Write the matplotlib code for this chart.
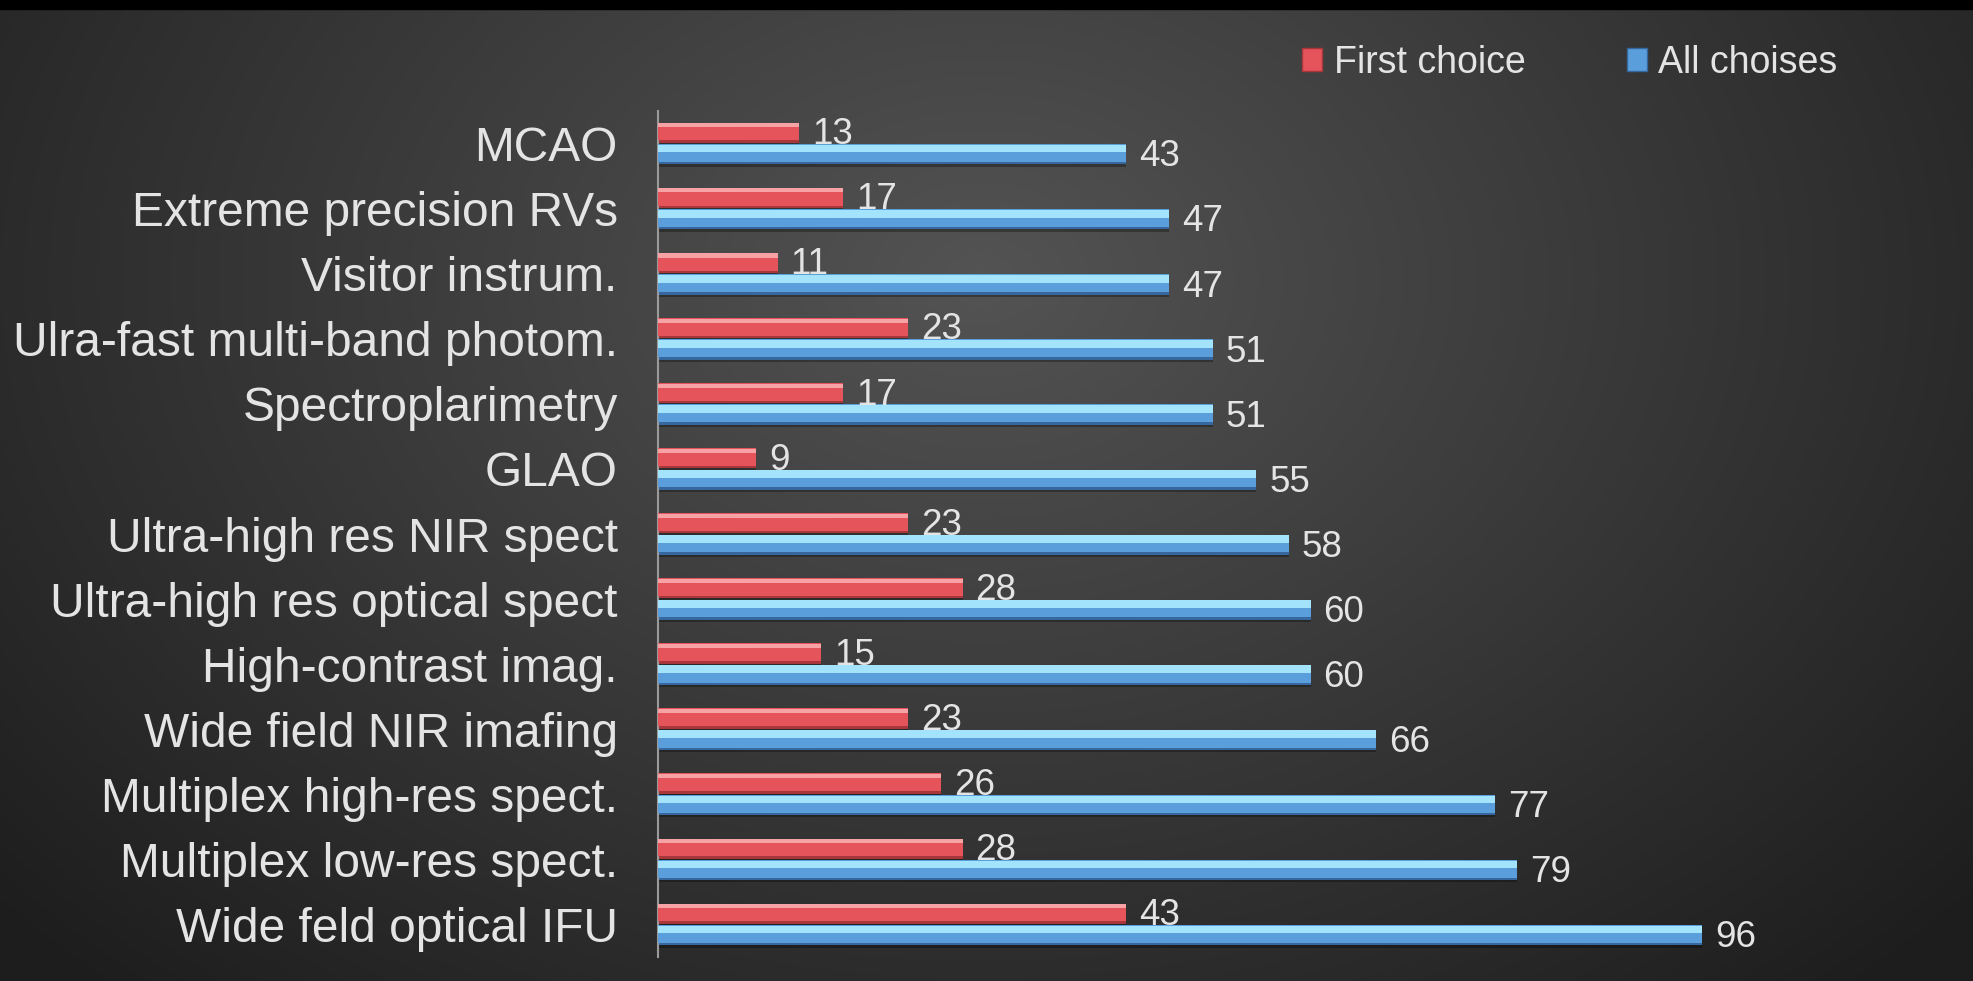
import numpy as np
import matplotlib.pyplot as plt
from matplotlib.patches import Patch

plt.rcParams['font.family'] = ['Liberation Sans', 'DejaVu Sans']

categories = [
    "MCAO", "Extreme precision RVs", "Visitor instrum.",
    "Ulra-fast multi-band photom.", "Spectroplarimetry", "GLAO",
    "Ultra-high res NIR spect", "Ultra-high res optical spect",
    "High-contrast imag.", "Wide field NIR imafing",
    "Multiplex high-res spect.", "Multiplex low-res spect.",
    "Wide feld optical IFU",
]
first_choice = [13, 17, 11, 23, 17, 9, 23, 28, 15, 23, 26, 28, 43]
all_choices = [43, 47, 47, 51, 51, 55, 58, 60, 60, 66, 77, 79, 96]

W, H = 1974, 981
fig = plt.figure(figsize=(W / 100, H / 100), dpi=100)

# background: radial grey gradient + black strip at top
bg = fig.add_axes([0, 0, 1, 1])
bg.axis("off")
yy, xx = np.mgrid[0:H, 0:W]
r = np.sqrt(((xx - 980) / 1300.0) ** 2 + ((yy - 280) / 950.0) ** 2)
shade = np.clip(0.33 - 0.21 * r, 0.12, 0.33)
bg.imshow(shade, cmap="gray", vmin=0, vmax=1, extent=[0, W, H, 0], aspect="auto")
bg.fill_between([0, W], 0, 9, color="black")
bg.set_xlim(0, W)
bg.set_ylim(H, 0)

ax = fig.add_axes([658 / W, 24 / H, (1900 - 658) / W, 846 / H])
ax.set_facecolor("none")

y = np.arange(len(categories))
h = 0.31
off = 0.165

red_base, red_light, red_dark = "#e5545a", "#f7a3a5", "#a8363a"
blue_base, blue_light, blue_dark = "#5a9fdc", "#a3e3fc", "#36679e"


def bevel_bars(pos, vals, base, light, dark, light_frac):
    # shadow, dark edge, body, highlight on the upper part
    ax.barh(pos + 0.035, vals, height=h, color="black", alpha=0.3, zorder=1)
    ax.barh(pos, vals, height=h, color=dark, zorder=2)
    ax.barh(pos - 0.06 * h, vals, height=0.88 * h, color=base, zorder=3)
    ax.barh(pos - 0.47 * h + light_frac * h / 2, vals, height=light_frac * h,
            color=light, zorder=4)


bevel_bars(y - off, first_choice, red_base, red_light, red_dark, 0.2)
bevel_bars(y + off, all_choices, blue_base, blue_light, blue_dark, 0.38)

label_color = "#e4e4e4"
for i, (a, b) in enumerate(zip(first_choice, all_choices)):
    ax.text(a + 1.2, i - off + 0.03, str(a), va="center", ha="left",
            fontsize=26.5, color=label_color, zorder=5)
    ax.text(b + 1.2, i + off + 0.04, str(b), va="center", ha="left",
            fontsize=26.5, color=label_color, zorder=5)

ax.set_xlim(0, 114.2)
ax.set_ylim(len(categories) - 0.5, -0.5)
ax.set_yticks(y)
ax.set_yticklabels(categories, fontsize=34.5, color=label_color)
ax.tick_params(axis="y", length=0, pad=29)
ax.set_xticks([])
for s in ["top", "right", "bottom"]:
    ax.spines[s].set_visible(False)
ax.spines["left"].set_color("#9a9a9a")
ax.spines["left"].set_linewidth(1.5)

handles = [
    Patch(facecolor=red_base, edgecolor=red_dark, label="First choice"),
    Patch(facecolor=blue_base, edgecolor=blue_dark, label="All choises"),
]
fig.legend(handles=handles, loc="center left", bbox_to_anchor=(1268 / W, 1 - 63 / H),
           ncol=2, frameon=False, fontsize=27, labelcolor=label_color,
           handlelength=0.55, handleheight=0.55, handletextpad=0.3, columnspacing=2.7)

fig.savefig("out.png", dpi=100)
